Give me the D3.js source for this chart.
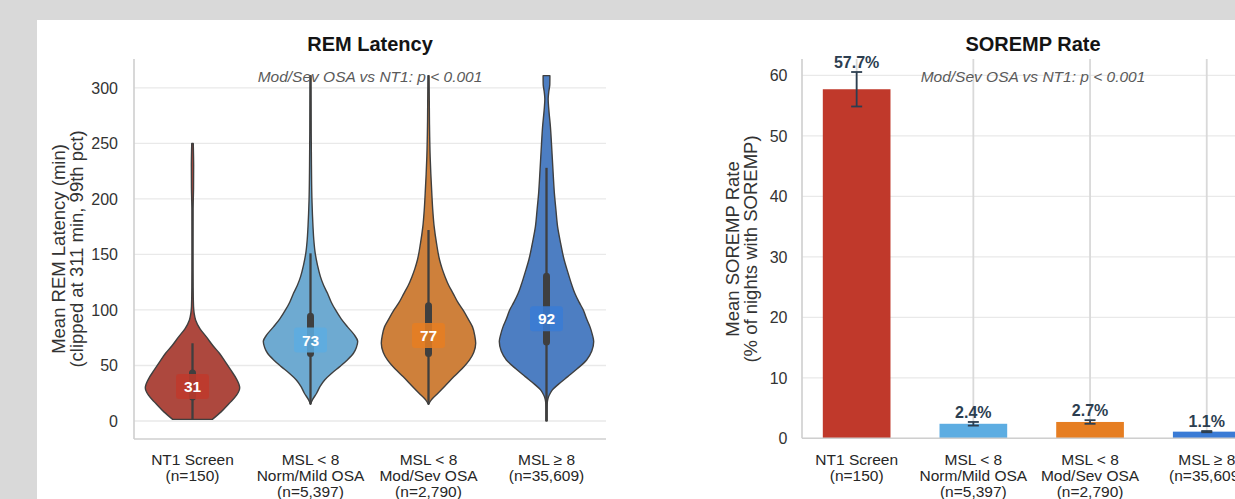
<!DOCTYPE html>
<html><head><meta charset="utf-8">
<script src="https://cdn.jsdelivr.net/npm/d3@7"></script>
<style>
html,body{margin:0;padding:0;background:#d9d9d9;overflow:hidden;}
svg{display:block;font-family:"Liberation Sans",Arial,Helvetica,sans-serif;}
</style></head>
<body>
<svg id="c" width="1235" height="499"></svg>
<script>
// ---------------- data ----------------
const categories = ["NT1 Screen", "MSL < 8 Norm/Mild OSA", "MSL < 8 Mod/Sev OSA", "MSL ≥ 8"];
const categoryLabels = [
  ["NT1 Screen", "(n=150)"],
  ["MSL < 8", "Norm/Mild OSA", "(n=5,397)"],
  ["MSL < 8", "Mod/Sev OSA", "(n=2,790)"],
  ["MSL ≥ 8", "(n=35,609)"]
];
const groupColors = ["#c0392b", "#5dade2", "#e67e22", "#3a7bd5"];

// REM latency distributions: [value (min), relative density]
const densNT1 = [[1.5,0.42],[8,0.6],[16,0.78],[23,0.93],[30,1.0],[38,0.93],[46,0.81],[53,0.7],[61,0.57],[68,0.43],[76,0.29],[83,0.16],[91,0.065],[97,0.035],[103,0.022],[120,0.014],[150,0.012],[190,0.013],[210,0.022],[230,0.024],[250,0.016]];
const densNormMild = [[15,0.0],[19,0.04],[25,0.13],[31,0.2],[37,0.3],[43,0.45],[49,0.62],[55,0.78],[61,0.91],[66,0.97],[71.5,1.0],[78,0.92],[85,0.78],[92,0.65],[100,0.53],[107,0.44],[115,0.36],[122,0.28],[130,0.21],[140,0.15],[151,0.1],[163,0.07],[175,0.053],[200,0.03],[230,0.02],[260,0.015],[311,0.012]];
const densModSev = [[15,0.0],[19,0.06],[25,0.2],[32,0.36],[40,0.54],[47,0.71],[55,0.87],[62,0.96],[70,1.0],[77,0.98],[85,0.93],[92,0.84],[100,0.73],[107,0.62],[115,0.52],[122,0.43],[130,0.35],[137,0.29],[145,0.235],[160,0.17],[175,0.12],[190,0.09],[205,0.07],[222,0.05],[238,0.035],[270,0.02],[311,0.012]];
const densMSL8 = [[0,0.012],[10,0.012],[15,0.014],[19,0.025],[22,0.045],[25,0.08],[28,0.125],[33,0.25],[40,0.45],[47,0.65],[55,0.85],[63,0.96],[71.5,1.0],[78,0.97],[85,0.92],[92,0.85],[100,0.78],[107,0.69],[115,0.6],[122,0.54],[130,0.48],[137,0.43],[145,0.375],[160,0.3],[175,0.235],[190,0.2],[205,0.167],[220,0.145],[235,0.125],[250,0.105],[265,0.083],[280,0.05],[290,0.035],[297,0.05],[303,0.07],[311,0.072]];
const densities = [densNT1, densNormMild, densModSev, densMSL8];

const latencyMedian = [31, 73, 77, 92];
const latencyQ1 = [19, 58, 58, 68.5];
const latencyQ3 = [46, 97, 106.5, 133];
const latencyWhiskLo = [1.5, 15, 15, 0];
const latencyWhiskHi = [70, 151, 172, 228];
const latencyTicks = [0, 50, 100, 150, 200, 250, 300];

// SOREMP rate
const sorempRate = [57.7, 2.4, 2.7, 1.1];
const sorempErr = [2.85, 0.3, 0.3, 0.1];
const sorempTicks = [0, 10, 20, 30, 40, 50, 60];

const subtitleText = "Mod/Sev OSA vs NT1: p < 0.001";

// ---------------- drawing ----------------
const svg = d3.select("#c");
svg.append("rect").attr("x", 37).attr("y", 20).attr("width", 1300).attr("height", 600).attr("fill", "#ffffff");

const gridCol = "#e9e9e9", spineCol = "#cfcfcf", tickCol = "#333333", lineCol = "#3f3f3f";

function xLabels(g, scale) {
  categories.forEach((c, i) => {
    const t = g.append("text").attr("text-anchor", "middle").attr("font-size", 15.5).attr("fill", "#262626");
    categoryLabels[i].forEach((ln, j) => {
      t.append("tspan").attr("x", scale(c) + scale.bandwidth() / 2).attr("y", 464.5 + j * 16.2).text(ln);
    });
  });
}
function yTickLabels(g, scale, ticks, xRight) {
  g.selectAll(null).data(ticks).join("text")
    .attr("x", xRight).attr("y", d => scale(d)).attr("dy", "0.36em")
    .attr("text-anchor", "end").attr("font-size", 16).attr("fill", tickCol)
    .text(d => d);
}
function yLabel(g, x1, x2, yc, l1, l2) {
  [[x1, l1], [x2, l2]].forEach(([x, s]) => {
    g.append("text").attr("transform", `translate(${x},${yc}) rotate(-90)`)
      .attr("dy", "0.35em").attr("text-anchor", "middle").attr("font-size", 18.5).attr("fill", tickCol).text(s);
  });
}

// ===== Left: REM Latency violins =====
const L = { left: 134, right: 606, top: 59, bottom: 439 };
const xL = d3.scaleBand().domain(categories).range([133.5, 605.5]);
const yL = d3.scaleLinear().domain([-16.2, 326]).range([L.bottom, L.top]);
const wL = d3.scaleLinear().domain([0, 1]).range([0, xL.bandwidth() * 0.4]);
const gl = svg.append("g");

gl.selectAll(null).data(latencyTicks).join("line")
  .attr("x1", L.left).attr("x2", L.right).attr("y1", d => yL(d)).attr("y2", d => yL(d))
  .attr("stroke", gridCol).attr("stroke-width", 1.3);

categories.forEach((c, i) => {
  const cx = xL(c) + xL.bandwidth() / 2;
  const hsl = d3.hsl(groupColors[i]); hsl.s *= 0.75;
  const area = d3.area().curve(d3.curveMonotoneY)
    .y(d => yL(d[0])).x0(d => cx - wL(d[1])).x1(d => cx + wL(d[1]));
  gl.append("path").datum(densities[i]).attr("d", area)
    .attr("fill", hsl.formatHex()).attr("stroke", lineCol).attr("stroke-width", 1.4).attr("stroke-linejoin", "round");
  gl.append("line").attr("x1", cx).attr("x2", cx)
    .attr("y1", yL(latencyWhiskLo[i])).attr("y2", yL(latencyWhiskHi[i]))
    .attr("stroke", lineCol).attr("stroke-width", 2.3);
  gl.append("line").attr("x1", cx).attr("x2", cx)
    .attr("y1", yL(latencyQ1[i]) - 3).attr("y2", yL(latencyQ3[i]) + 3)
    .attr("stroke", lineCol).attr("stroke-width", 7).attr("stroke-linecap", "round");
  const my = yL(latencyMedian[i]);
  gl.append("rect").attr("x", cx - 16.5).attr("y", my - 12.5).attr("width", 33).attr("height", 25).attr("rx", 3)
    .attr("fill", groupColors[i]).attr("fill-opacity", 0.85);
  gl.append("text").attr("x", cx).attr("y", my).attr("dy", "0.36em").attr("text-anchor", "middle")
    .attr("font-size", 15.5).attr("font-weight", "bold").attr("fill", "#ffffff").text(latencyMedian[i]);
});

gl.append("line").attr("x1", L.left).attr("x2", L.left).attr("y1", L.top).attr("y2", L.bottom).attr("stroke", spineCol).attr("stroke-width", 1.6);
gl.append("line").attr("x1", L.left).attr("x2", L.right).attr("y1", L.bottom).attr("y2", L.bottom).attr("stroke", spineCol).attr("stroke-width", 1.6);
yTickLabels(gl, yL, latencyTicks, 118);
xLabels(gl, xL);
yLabel(gl, 58.7, 76.3, 249, "Mean REM Latency (min)", "(clipped at 311 min, 99th pct)");
gl.append("text").attr("x", (L.left + L.right) / 2).attr("y", 50.5).attr("text-anchor", "middle")
  .attr("font-size", 20).attr("font-weight", "bold").attr("fill", "#141414").text("REM Latency");
gl.append("text").attr("x", (L.left + L.right) / 2).attr("y", 81.5).attr("text-anchor", "middle")
  .attr("font-size", 15.5).attr("font-style", "italic").attr("fill", "#5a5a5a").text(subtitleText);

// ===== Right: SOREMP Rate bars =====
const R = { left: 802, right: 1264, top: 59, bottom: 438.3 };
const xR = d3.scaleBand().domain(categories).range([798.3, 798.3 + 4 * 116.7]);
const yR = d3.scaleLinear().domain([0, 62.7]).range([R.bottom, R.top]);
const gr = svg.append("g");
const barW = xR.bandwidth() * 0.58;

gr.selectAll(null).data(sorempTicks).join("line")
  .attr("x1", R.left).attr("x2", R.right).attr("y1", d => yR(d)).attr("y2", d => yR(d))
  .attr("stroke", gridCol).attr("stroke-width", 1.3);
gr.selectAll(null).data(categories).join("line")
  .attr("x1", d => xR(d) + xR.bandwidth() / 2).attr("x2", d => xR(d) + xR.bandwidth() / 2)
  .attr("y1", R.top).attr("y2", R.bottom)
  .attr("stroke", "#d9d9d9").attr("stroke-width", 1.8);

categories.forEach((c, i) => {
  const cx = xR(c) + xR.bandwidth() / 2;
  gr.append("rect").attr("x", cx - barW / 2).attr("width", barW)
    .attr("y", yR(sorempRate[i])).attr("height", yR(0) - yR(sorempRate[i]))
    .attr("fill", groupColors[i]);
  const hi = yR(sorempRate[i] + sorempErr[i]), lo = yR(sorempRate[i] - sorempErr[i]);
  const eb = gr.append("g").attr("stroke", "#2c3e50").attr("stroke-width", 1.8);
  eb.append("line").attr("x1", cx).attr("x2", cx).attr("y1", hi).attr("y2", lo);
  eb.append("line").attr("x1", cx - 5.5).attr("x2", cx + 5.5).attr("y1", hi).attr("y2", hi);
  eb.append("line").attr("x1", cx - 5.5).attr("x2", cx + 5.5).attr("y1", lo).attr("y2", lo);
  gr.append("text").attr("x", cx).attr("y", hi - 4.2).attr("text-anchor", "middle")
    .attr("font-size", 16).attr("font-weight", "bold").attr("fill", "#2c3e50")
    .text(sorempRate[i].toFixed(1) + "%");
});

gr.append("line").attr("x1", R.left).attr("x2", R.left).attr("y1", R.top).attr("y2", R.bottom).attr("stroke", spineCol).attr("stroke-width", 1.6);
gr.append("line").attr("x1", R.left).attr("x2", R.right).attr("y1", R.bottom).attr("y2", R.bottom).attr("stroke", spineCol).attr("stroke-width", 1.6);
yTickLabels(gr, yR, sorempTicks, 787.5);
xLabels(gr, xR);
yLabel(gr, 733, 750.5, 249, "Mean SOREMP Rate", "(% of nights with SOREMP)");
gr.append("text").attr("x", (R.left + R.right) / 2).attr("y", 50.5).attr("text-anchor", "middle")
  .attr("font-size", 20).attr("font-weight", "bold").attr("fill", "#141414").text("SOREMP Rate");
gr.append("text").attr("x", (R.left + R.right) / 2).attr("y", 81.5).attr("text-anchor", "middle")
  .attr("font-size", 15.5).attr("font-style", "italic").attr("fill", "#5a5a5a").text(subtitleText);
</script>
</body></html>
